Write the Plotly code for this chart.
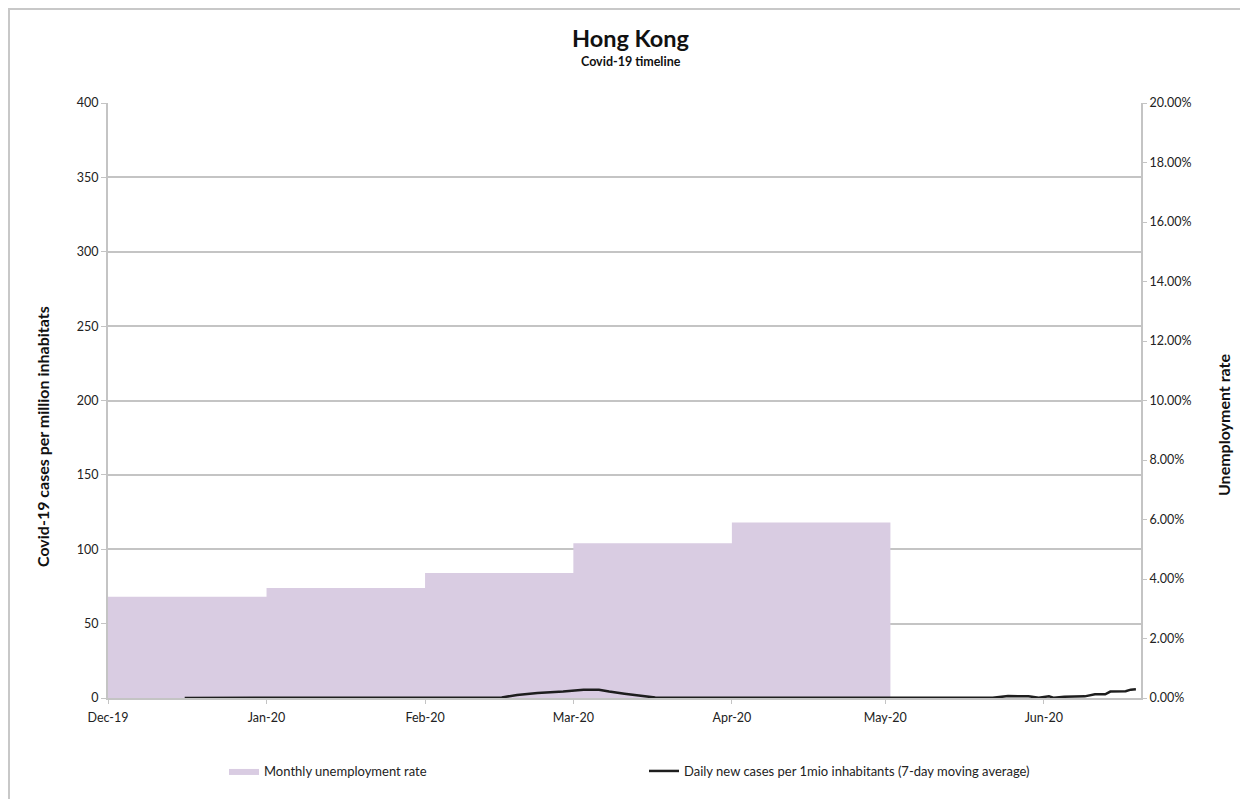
import plotly.graph_objects as go

# Monthly unemployment rate (step area, right axis)
unemp_dates = ["2019-12-01", "2020-01-01", "2020-02-01", "2020-03-01", "2020-04-01", "2020-05-02"]
unemp_rate = [0.034, 0.037, 0.042, 0.052, 0.059, 0.059]

# Daily new cases per 1 mio inhabitants (7-day moving average, left axis)
case_dates = ["2019-12-16", "2020-01-05", "2020-01-25", "2020-02-10", "2020-02-16", "2020-02-19",
              "2020-02-23", "2020-02-28", "2020-03-03", "2020-03-06", "2020-03-08", "2020-03-11",
              "2020-03-14", "2020-03-17", "2020-03-25", "2020-04-10", "2020-04-25", "2020-05-10",
              "2020-05-22", "2020-05-25", "2020-05-29", "2020-05-31", "2020-06-02", "2020-06-03",
              "2020-06-05", "2020-06-09", "2020-06-11", "2020-06-13", "2020-06-14", "2020-06-17",
              "2020-06-18", "2020-06-19"]
case_values = [0.0, 0.2, 0.3, 0.3, 0.4, 2.0,
               3.4, 4.3, 5.6, 5.6, 4.3, 2.9,
               1.5, 0.3, 0.1, 0.0, 0.1, 0.1,
               0.1, 1.3, 1.2, 0.1, 1.2, 0.1,
               0.9, 1.1, 2.5, 2.5, 4.3, 4.5,
               5.6, 5.9]

month_ticks = ["2019-12-01", "2020-01-01", "2020-02-01", "2020-03-01", "2020-04-01", "2020-05-01", "2020-06-01"]
month_labels = ["Dec-19", "Jan-20", "Feb-20", "Mar-20", "Apr-20", "May-20", "Jun-20"]

FONT = "Lato"
GRID = "#c4c4c4"
TICKFONT = dict(size=12.5, family=FONT, color="#222")

# plot area in page pixels (page has an 8px body margin)
PX0, PX1, PY0, PY1 = 108, 1141, 103, 698
PW, PH = PX1 - PX0, PY1 - PY0


def px(x):
    return (x - PX0) / PW


def py(y):
    return (PY1 - y) / PH


fig = go.Figure()
fig.add_trace(go.Scatter(
    x=unemp_dates, y=unemp_rate, name="Monthly unemployment rate",
    mode="lines", line=dict(shape="hv", width=0, color="#d9cce2"),
    fill="tozeroy", fillcolor="#d9cce2", yaxis="y", hoverinfo="skip"))
fig.add_trace(go.Scatter(
    x=case_dates, y=case_values, name="Daily new cases per 1mio inhabitants (7-day moving average)",
    mode="lines", line=dict(color="#1e1e1e", width=2.5), yaxis="y2"))

fig.update_layout(
    width=1240, height=791,
    paper_bgcolor="white", plot_bgcolor="white",
    margin=dict(l=100, r=107, t=95, b=101),
    font=dict(family=FONT, size=12, color="#222"),
    showlegend=True,
    legend=dict(orientation="h", x=px(224), y=py(771), xanchor="left", yanchor="middle",
                entrywidth=375, entrywidthmode="pixels", font=dict(size=13, family=FONT, color="#222"),
                itemwidth=30, bgcolor="rgba(0,0,0,0)"),
    xaxis=dict(type="date", range=["2019-12-01", "2020-06-20"],
               tickvals=month_ticks, ticktext=month_labels,
               showgrid=False, zeroline=False, showline=True, linecolor=GRID, linewidth=2,
               ticks="outside", ticklen=4, tickcolor=GRID, tickwidth=1,
               ticklabelstandoff=3, tickfont=TICKFONT),
    yaxis=dict(side="right", range=[0, 0.2], dtick=0.02, tickformat=".2%",
               showgrid=False, zeroline=False, showline=True, linecolor=GRID, linewidth=2,
               ticks="outside", ticklen=4, tickcolor=GRID, tickwidth=1,
               tickfont=TICKFONT),
    yaxis2=dict(side="left", overlaying="y", range=[0, 400], dtick=50,
                showgrid=True, gridcolor=GRID, gridwidth=2, zeroline=False,
                showline=True, linecolor=GRID, linewidth=2,
                ticks="outside", ticklen=5, tickcolor=GRID, tickwidth=1,
                tickfont=TICKFONT),
    shapes=[dict(type="rect", xref="paper", yref="paper",
                 x0=px(9), x1=px(1262), y0=py(812), y1=py(9),
                 line=dict(color="#c8c8c8", width=2), fillcolor="rgba(0,0,0,0)", layer="below")],
    annotations=[
        dict(text="<b>Hong Kong</b>", xref="paper", yref="paper", x=px(631), y=py(38),
             showarrow=False, font=dict(size=23.5, family=FONT, color="#111"), xanchor="center", yanchor="middle"),
        dict(text="<b>Covid-19 timeline</b>", xref="paper", yref="paper", x=px(631), y=py(61),
             showarrow=False, font=dict(size=12.5, family=FONT, color="#111"), xanchor="center", yanchor="middle"),
        dict(text="<b>Covid-19 cases per million inhabitats</b>", xref="paper", yref="paper",
             x=px(42), y=py(437), textangle=-90,
             showarrow=False, font=dict(size=16, family=FONT, color="#111"), xanchor="center", yanchor="middle"),
        dict(text="<b>Unemployment rate</b>", xref="paper", yref="paper",
             x=px(1223), y=py(425), textangle=-90,
             showarrow=False, font=dict(size=16, family=FONT, color="#111"), xanchor="center", yanchor="middle"),
    ],
)

fig.write_html("out.html")
